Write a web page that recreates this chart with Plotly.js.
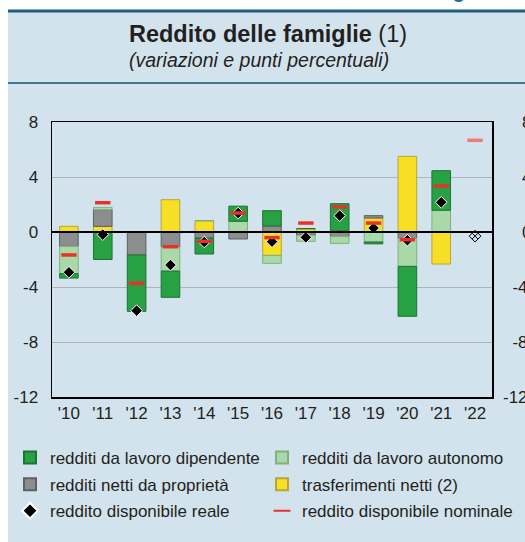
<!DOCTYPE html>
<html>
<head>
<meta charset="utf-8">
<script src="https://cdn.plot.ly/plotly-3.0.1.min.js"></script>
<style>
  html, body { margin: 0; padding: 0; background: #ffffff; }
  #chart { width: 525px; height: 542px; }
</style>
</head>
<body>
<div id="chart"></div>
<script>
// Categories (years)
const years = ["'10", "'11", "'12", "'13", "'14", "'15", "'16", "'17", "'18", "'19", "'20", "'21", "'22"];

// Contributions (percentage points)
const lavoroDipendente = [-0.32, -2.0, -4.1, -1.91, -1.16, 1.1, 1.11, 0, 1.98, -0.13, -3.63, 2.88, null];
const lavoroAutonomo   = [-1.99, 0.17, 0, -1.75, 0, 0.78, -0.58, -0.44, -0.5, -0.73, -2.04, 1.58, null];
const proprieta        = [-1.04, 1.21, -1.67, -1.09, -0.44, -0.51, 0.44, -0.24, -0.33, 0.17, -0.46, 0, null];
const trasferimenti    = [0.41, 0.41, 0, 2.35, 0.82, 0, -1.7, 0.24, 0.08, 1.02, 5.5, -2.33, null];

// Disposable income (percentage changes)
const redditoReale    = [-2.93, -0.19, -5.72, -2.4, -0.73, 1.38, -0.7, -0.39, 1.19, 0.29, -0.6, 2.16, -0.3];
const redditoNominale = [-1.67, 2.13, -3.73, -1.07, -0.68, 1.38, -0.41, 0.65, 1.82, 0.65, -0.56, 3.35, 6.67];

// Axis ticks
const yTicks = [-12, -8, -4, 0, 4, 8];
const yTickLabels = ["-12", "-8", "-4", "0", "4", "8"];
const yTickLabelsRight = ["-12", "\u2007-8", "\u2007-4", "\u2007\u2008 0", "\u2007\u2008 4", "\u2007\u2008 8"];

const FONT = "Liberation Sans, Arial, Helvetica, sans-serif";
const TXT = "#231f20";

// plot-area geometry (pixels) used to place decorations
const PL = 52, PR = 492, PT = 122, PB = 397;
const PW = PR - PL, PH = PB - PT;
const px = (x) => (x - PL) / PW;
const py = (y) => (PB - y) / PH;

function barTrace(name, y, fill, edge, rank, leg) {
  return {
    type: "bar", name: name, x: years, y: y,
    marker: { color: fill, line: { color: edge, width: 1 } },
    width: 0.55, legendrank: rank, legend: leg, legendgroup: name,
    hoverinfo: "x+y+name"
  };
}

const realSymbols = years.map((_, i) => i === years.length - 1 ? "diamond-x-open" : "diamond");
const realLineColors = years.map((_, i) => i === years.length - 1 ? "#000000" : "#ffffff");
const nomLineColors = years.map((_, i) => i === years.length - 1 ? "#f07a74" : "#e8312b");

const data = [
  barTrace("trasferimenti netti (2)", trasferimenti, "#f7df26", "#b9a53a", 2, "legend2"),
  barTrace("redditi netti da proprietà", proprieta, "#8c8d8f", "#5f6062", 2, "legend"),
  barTrace("redditi da lavoro autonomo", lavoroAutonomo, "#a9d8a9", "#7fb07f", 1, "legend2"),
  barTrace("redditi da lavoro dipendente", lavoroDipendente, "#28a145", "#1c7433", 1, "legend"),
  {
    type: "scatter", mode: "markers", name: "reddito disponibile reale",
    x: years, y: redditoReale, legendrank: 3, legend: "legend", legendgroup: "reale",
    marker: { symbol: realSymbols, size: 9, color: "#000000",
              line: { color: realLineColors, width: 1 } }
  },
  {
    type: "scatter", mode: "markers", name: "reddito disponibile nominale",
    x: years, y: redditoNominale, legendrank: 3, legend: "legend2", legendgroup: "nominale",
    marker: { symbol: "line-ew", size: 11, color: "#e8312b",
              line: { color: nomLineColors, width: 3.5 } }
  },
  { type: "scatter", x: [years[0]], y: [null], yaxis: "y2", showlegend: false, hoverinfo: "skip" }
];

const legendStyle = (x) => ({
  orientation: "v", xref: "container", yref: "container",
  x: x / 525, xanchor: "left", y: 1 - 440 / 542, yanchor: "top",
  font: { family: FONT, size: 17, color: TXT },
  bgcolor: "rgba(0,0,0,0)", traceorder: "grouped", tracegroupgap: 1.5,
  itemsizing: "constant"
});

const layout = {
  width: 525, height: 542,
  margin: { l: PL, r: 525 - PR, t: PT, b: 542 - PB, autoexpand: false },
  paper_bgcolor: "rgba(0,0,0,0)",
  plot_bgcolor: "#ffffff",
  font: { family: FONT, size: 17, color: TXT },
  barmode: "relative",
  showlegend: true,
  title: {
    text: "<b>Reddito delle famiglie</b> (1)",
    font: { family: FONT, size: 23.5, color: TXT },
    x: 268 / 525, xanchor: "center", xref: "container",
    y: 1 - 34 / 542, yanchor: "middle", yref: "container"
  },
  xaxis: {
    type: "category", categoryorder: "array", categoryarray: years,
    range: [-0.5, years.length - 0.5],
    showline: true, mirror: true, linecolor: "#000000", linewidth: 1.5,
    ticks: "", showgrid: false, tickfont: { size: 17, color: TXT },
    ticklabelstandoff: 0, fixedrange: true
  },
  yaxis: {
    range: [-12, 8], tickvals: yTicks, ticktext: yTickLabels,
    showline: true, mirror: true, linecolor: "#000000", linewidth: 1.5,
    showgrid: true, gridcolor: "#b3b3b3", gridwidth: 1,
    zeroline: true, zerolinecolor: "#000000", zerolinewidth: 1.5,
    zerolinelayer: "above traces",
    ticks: "", ticklabelstandoff: 9, tickfont: { size: 17, color: TXT },
    fixedrange: true
  },
  yaxis2: {
    overlaying: "y", side: "right", range: [-12, 8],
    tickvals: yTicks, ticktext: yTickLabelsRight,
    showgrid: false, zeroline: false, showline: false, ticks: "",
    ticklabelstandoff: 10, tickfont: { size: 17, color: TXT }, fixedrange: true
  },
  legend: legendStyle(10),
  legend2: legendStyle(262),
  shapes: [
    { type: "rect", xref: "paper", yref: "paper", x0: px(8), x1: px(525),
      y0: py(542), y1: py(11), fillcolor: "#d3e3ed", line: { width: 0 }, layer: "below" },
    { type: "line", xref: "paper", yref: "paper", x0: px(8), x1: px(525),
      y0: py(11), y1: py(11), line: { color: "#1d5f7f", width: 3 } },
    { type: "line", xref: "paper", yref: "paper", x0: px(8), x1: px(525),
      y0: py(83), y1: py(83), line: { color: "#3a7896", width: 2 } }
  ],
  annotations: [
    { text: "<i>(variazioni e punti percentuali)</i>", xref: "paper", yref: "paper",
      x: px(259), xanchor: "center", y: py(60), yanchor: "middle", showarrow: false,
      font: { family: FONT, size: 19.5, color: TXT } },
    { text: "<b>Figura 4.1</b>", xref: "paper", yref: "paper", x: px(433), xanchor: "left",
      y: py(4), yanchor: "bottom", showarrow: false,
      font: { family: FONT, size: 20, color: "#1f6c9c" } }
  ]
};

Plotly.newPlot("chart", data, layout, { displayModeBar: false, staticPlot: true });
</script>
</body>
</html>
